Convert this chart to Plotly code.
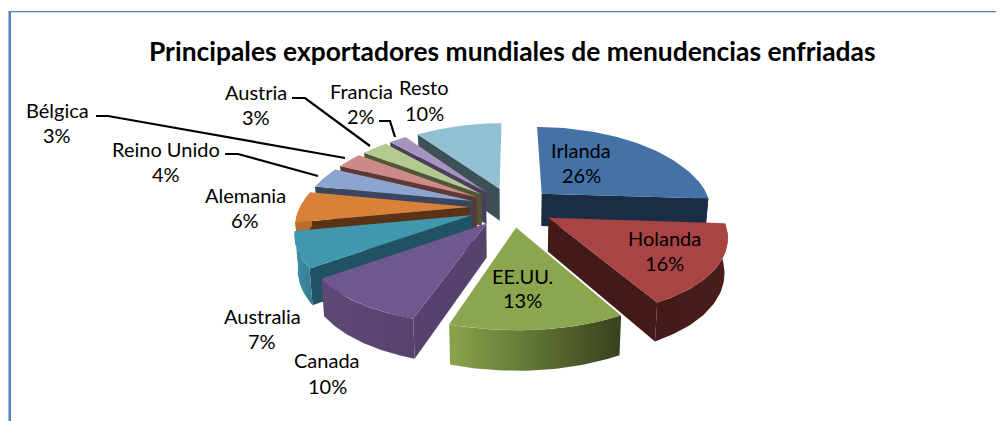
import math
import numpy as np
import plotly.graph_objects as go

title = "Principales exportadores mundiales de menudencias enfriadas"
categories = ["Irlanda", "Holanda", "EE.UU.", "Canada", "Australia", "Alemania",
              "Reino Unido", "Bélgica", "Austria", "Francia", "Resto"]
values = [26, 16, 13, 10, 7, 6, 4, 3, 3, 2, 10]

top_colors = ["#4471A6", "#A84544", "#8BA64F", "#6F5790", "#3F97B0", "#D98138",
              "#8CA5CF", "#CE8A88", "#B3C98D", "#A594BE", "#92C0D3"]
radial_colors = ["#1B2D45", "#431A18", "#37411D", "#57426D", "#1F5262", "#5A3216",
                 "#3A4660", "#5E3836", "#4E5836", "#4A3F5A", "#3D5058"]
wall_left = ["#1B2D45", "#431A18", "#8AA44C", "#5F4878", "#3F8FA8", "#B86C2E",
             "#76899F", "#A87070", "#93A672", "#88799C", "#3D5058"]
wall_right = ["#1B2D45", "#4A1D1B", "#37411D", "#57426D", "#357C92", "#B86C2E",
              "#76899F", "#A87070", "#93A672", "#88799C", "#3D5058"]

# label centres (name line, percent line) in page pixels
label_pos = {"Irlanda": (581, 150, 175), "Holanda": (664, 238, 263), "EE.UU.": (522, 276, 300),
             "Canada": (327, 360, 386), "Australia": (262, 316, 341), "Alemania": (245, 195, 220),
             "Reino Unido": (166, 149, 174), "Bélgica": (57, 110, 135), "Austria": (256, 92, 117),
             "Francia": (361, 91, 116), "Resto": (424, 87, 113)}
leaders = {"Bélgica": ([96, 108, 345], [116, 116, 158]),
           "Reino Unido": ([225, 238, 318], [154, 154, 176]),
           "Austria": ([292, 305, 370], [98, 98, 146]),
           "Francia": ([379, 390, 395], [121, 121, 137])}

W, H = 1004, 421
PAGE_MARGIN = 8
CX, CY = 512, 207
R, TILT, PERSP_X, PERSP_Y = 170, 0.473, 0.19, 0.15
EXPLODE, DEPTH = 42, 33


def project(gx, gy, bottom=False):
    px = 1 / (1 - PERSP_X * gy / R)
    py = 1 / (1 - PERSP_Y * gy / R)
    sx = CX + gx * px * (0.985 if bottom else 1)
    sy = CY + gy * TILT * py + (DEPTH * py if bottom else 0)
    return sx, sy


def ground(theta, mid, r=R):
    ex, ey = EXPLODE * math.sin(mid), -EXPLODE * math.cos(mid)
    return ex + r * math.sin(theta), ey - r * math.cos(theta)


def polygon(points):
    xs = [a for a, _ in points] + [points[0][0]]
    ys = [b for _, b in points] + [points[0][1]]
    return xs, ys


fig = go.Figure()


def add_poly(points, color, gradient=None):
    xs, ys = polygon(points)
    kw = dict(fillcolor=color)
    if gradient:
        kw = dict(fillgradient=dict(type="horizontal",
                                    colorscale=[[0, gradient[0]], [1, gradient[1]]]))
    fig.add_trace(go.Scatter(x=xs, y=ys, mode="lines", fill="toself",
                             line=dict(width=0, color=color), hoverinfo="skip",
                             showlegend=False, **kw))


total = sum(values)
bounds = np.cumsum([0] + values) / total * 2 * math.pi
draw_order = [10, 9, 8, 7, 6, 5, 4, 3, 0, 1, 2]

for i in draw_order:
    t1, t2 = bounds[i], bounds[i + 1]
    mid = (t1 + t2) / 2
    apex = ground(0, mid, 0)
    # radial wall: the one facing the viewer
    wall_t = t2 if mid < math.pi * 0.9 else (t1 if mid > math.pi else None)
    if wall_t is not None:
        edge = ground(wall_t, mid)
        add_poly([project(*apex), project(*edge), project(*edge, True), project(*apex, True)],
                 radial_colors[i])
    # outer wall: only the part of the rim turned to the viewer
    lo, hi = max(t1, math.radians(80)), min(t2, math.radians(280))
    if hi > lo:
        arc = np.linspace(lo, hi, 40)
        tops = [project(*ground(a, mid)) for a in arc]
        bots = [project(*ground(a, mid), True) for a in arc[::-1]]
        add_poly(tops + bots, wall_left[i], gradient=(wall_left[i], wall_right[i]))
    # top face
    arc = np.linspace(t1, t2, 60)
    add_poly([project(*apex)] + [project(*ground(a, mid)) for a in arc], top_colors[i])

for name, (lx, ly) in leaders.items():
    fig.add_trace(go.Scatter(x=lx, y=ly, mode="lines", line=dict(color="black", width=2.2),
                             hoverinfo="skip", showlegend=False))

FONT = "Lato"
for name, v in zip(categories, values):
    x, y1, y2 = label_pos[name]
    for text, y in ((name, y1), (f"{v}%", y2)):
        fig.add_annotation(x=x, y=y, text=text, showarrow=False, xanchor="center", yanchor="middle",
                           font=dict(family=FONT, size=20, color="black"))

fig.add_annotation(x=512, y=51, text=f"<b>{title}</b>", showarrow=False, xanchor="center",
                   yanchor="middle", font=dict(family=FONT, size=26.4, color="black"))

frame = "#4F81BD"
fig.update_layout(
    width=W - PAGE_MARGIN, height=H - PAGE_MARGIN, margin=dict(l=0, r=0, t=0, b=0), autosize=False,
    paper_bgcolor="white", plot_bgcolor="white", showlegend=False,
    xaxis=dict(range=[PAGE_MARGIN, W], visible=False, fixedrange=True),
    yaxis=dict(range=[H, PAGE_MARGIN], visible=False, fixedrange=True),
    shapes=[
        dict(type="rect", x0=8.5, x1=11, y0=11, y1=H, fillcolor=frame, line_width=0, layer="above"),
        dict(type="rect", x0=8.5, x1=W, y0=11, y1=12.3, fillcolor=frame, line_width=0, layer="above"),
    ],
)
fig.write_html("out.html", config={"displayModeBar": False})
